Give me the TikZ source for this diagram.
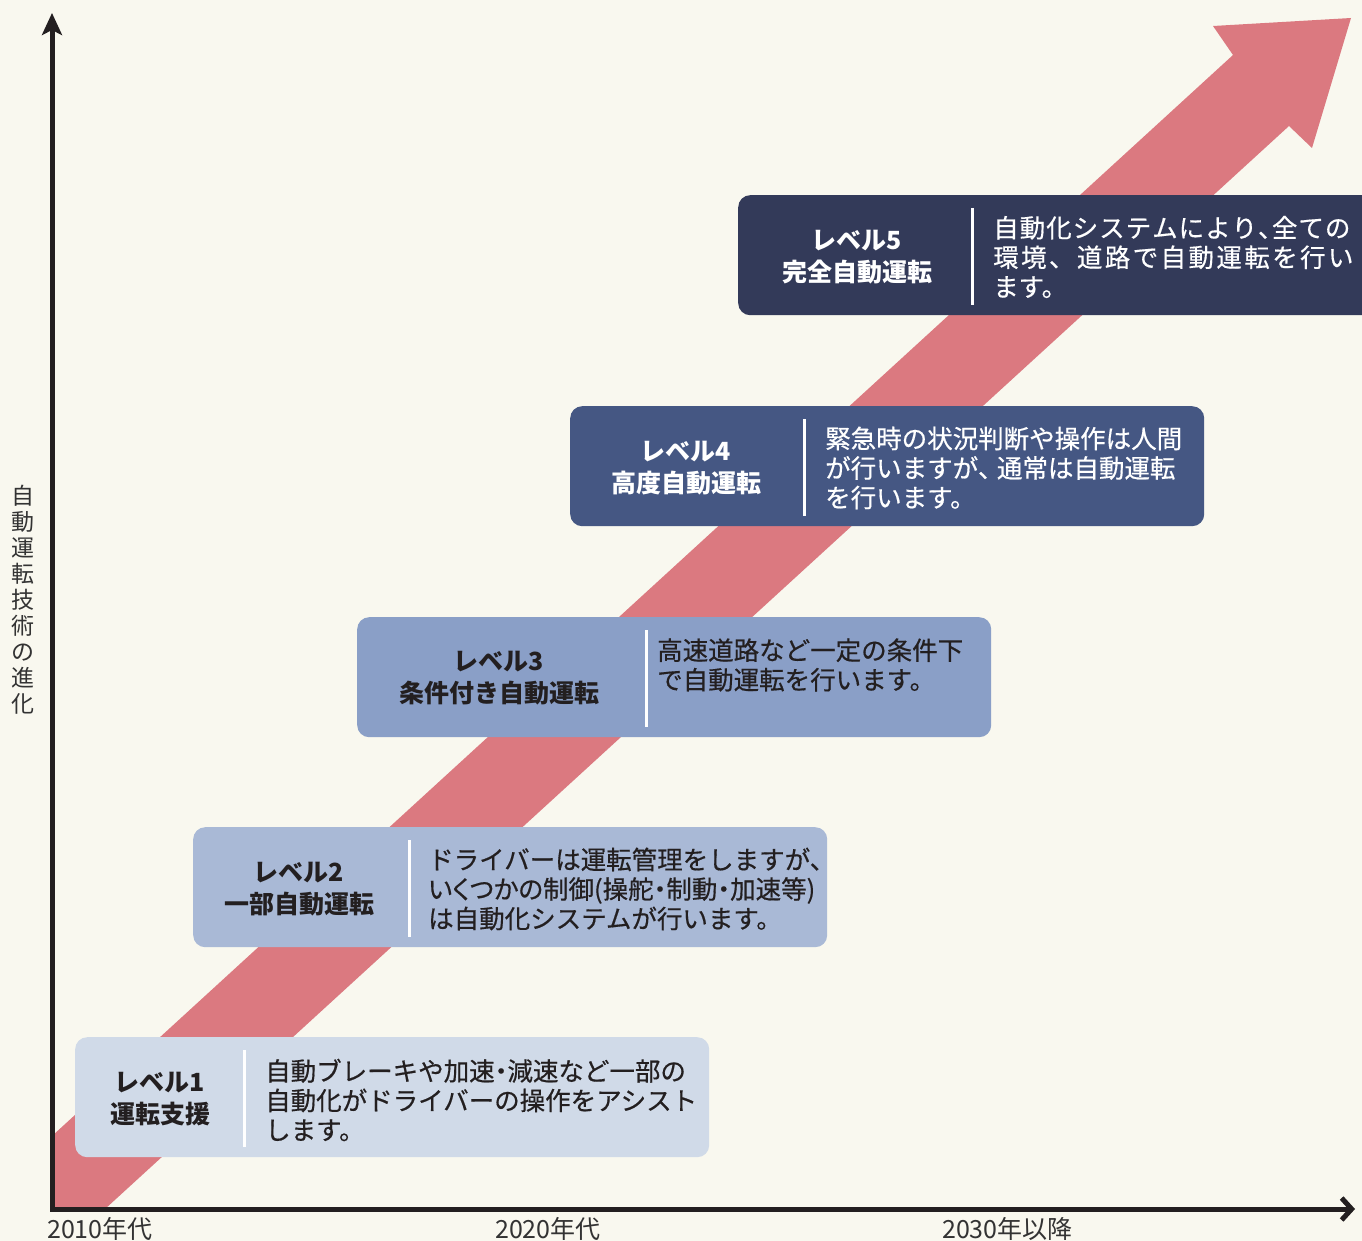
\documentclass[tikz,border=0pt]{standalone}
\usepackage{fontspec}
\setmainfont{Noto Sans CJK JP}
\newfontfamily\jpm{Noto Sans CJK JP}[FakeBold=0.5]
\newfontfamily\jpp{Noto Sans CJK JP}[RawFeature=+palt,FakeBold=0.5]
\usetikzlibrary{arrows.meta,calc}
\definecolor{bgc}{HTML}{F9F8EF}
\definecolor{pinkc}{HTML}{DB7980}
\definecolor{c1}{HTML}{D0DAE8}
\definecolor{c2}{HTML}{A9B9D6}
\definecolor{c3}{HTML}{8A9FC7}
\definecolor{c4}{HTML}{455783}
\definecolor{c5}{HTML}{333A59}
\definecolor{ink}{HTML}{231F20}
\definecolor{lab}{HTML}{333333}
\newcommand\kk{\kern2.4pt}
\newcommand\kj{\kern1.0pt}
\newcommand\hp[1]{{\jpp #1}}
\tikzset{
  lvbox/.style={rounded corners=12pt, inner sep=0pt, minimum height=120pt, minimum width=634pt, anchor=north west, draw=none},
  divider/.style={white, line width=3pt},
  title/.style={align=center, inner sep=0pt, font=\bfseries\fontsize{25}{32}\selectfont},
  desc/.style={align=left, inner sep=0pt, anchor=west, font=\jpm\fontsize{25.5}{29.5}\selectfont},
  yearlab/.style={anchor=base west, inner sep=0pt, text=lab, font=\fontsize{25}{30}\selectfont},
  axisline/.style={ink, line width=5pt, line join=miter}
}
\begin{document}
\begin{tikzpicture}[x=1pt,y=-1pt]
\clip (0,0) rectangle (1362,1241);
\fill[bgc] (0,0) rectangle (1362,1241);
% big arrow
\fill[pinkc] (52,1209) -- (105,1209) -- (1289,126) -- (1312,148) -- (1351,18) -- (1213,26) -- (1233,55) -- (52,1136) -- cycle;
% boxes
\node[lvbox, fill=c1] (b1) at (75,1037) {};
\node[lvbox, fill=c2] (b2) at (193,827) {};
\node[lvbox, fill=c3] (b3) at (357,617) {};
\node[lvbox, fill=c4] (b4) at (570,406) {};
\node[lvbox, fill=c5, minimum width=660pt] (b5) at (738,195) {};
% dividers
\draw[divider] ($(b1.north west)+(169,13)$) -- ($(b1.north west)+(169,110)$);
\draw[divider] ($(b2.north west)+(216,13)$) -- ($(b2.north west)+(216,110)$);
\draw[divider] ($(b3.north west)+(289,13)$) -- ($(b3.north west)+(289,110)$);
\draw[divider] ($(b4.north west)+(234,13)$) -- ($(b4.north west)+(234,110)$);
\draw[divider] ($(b5.north west)+(234,13)$) -- ($(b5.north west)+(234,110)$);
% titles
\node[title, text=ink] (t1) at (160,1099) {レベル1\\運転支援};
\node[title, text=ink] (t2) at (299,889) {レベル2\\一部自動運転};
\node[title, text=ink] (t3) at (499,678) {レベル3\\条件付き自動運転};
\node[title, text=white] (t4) at (686,468) {レベル4\\高度自動運転};
\node[title, text=white] (t5) at (857,257) {レベル5\\完全自動運転};
% descriptions
\node[desc, text=ink] (d1) at (265,1100) {自動ブレーキや加速\hp{・}減速など一部の\\自動化がドライバーの操作をアシスト\\します。};
\node[desc, text=ink] (d2) at (428,889) {ドライバーは運転管理をしますが、\\\hp{いくつかの制御(操舵・制動・加速等)}\\は自動化システムが行います。};
\node[desc, text=ink] (d3) at (657,665) {高速道路など一定の条件下\\で自動運転を行います。};
\node[desc, text=white] (d4) at (825,468) {緊急時の状況判断や操作は人間\\が行いますが\hp{、}\kern6pt 通常は自動運転\\を行います。};
\node[desc, text=white] (d5) at (993,257) {自\kj 動\kj 化\kj シ\kj ス\kj テ\kj ム\kj に\kj よ\kj り\kj\hp{、}\kj 全\kj て\kj の\\環\kk 境\kk 、\kk 道\kk 路\kk で\kk 自\kk 動\kk 運\kk 転\kk を\kk 行\kk い\\ます。};
% axes
\coordinate (ytop) at (52,13);
\coordinate (origin) at (52,1209);
\coordinate (xend) at (1355,1209);
\draw[axisline, {Stealth[length=22pt,width=20pt,inset=5pt]}-{Straight Barb[length=10pt,width=22pt]}] (ytop) -- (origin) -- (xend);
% labels
\node[yearlab] (y1) at (47,1238) {2010年代};
\node[yearlab] (y2) at (495,1238) {2020年代};
\node[yearlab] (y3) at (942,1238) {2030年以降};
\node[align=center, inner sep=0pt, text=lab, font=\fontsize{23}{26}\selectfont] (ylab) at (23,600) {自\\動\\運\\転\\技\\術\\の\\進\\化};
\end{tikzpicture}
\end{document}
